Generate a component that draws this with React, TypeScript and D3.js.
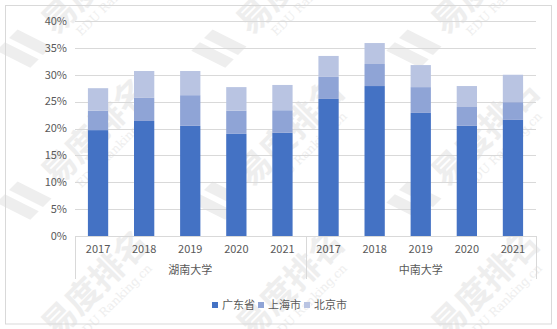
import React from "react";
import * as d3 from "d3";

const years = ["2017", "2018", "2019", "2020", "2021"];
const groups = ["湖南大学", "中南大学"];
const seriesNames = ["广东省", "上海市", "北京市"];
const guangdong = [19.7, 21.4, 20.5, 19.0, 19.2, 25.5, 27.9, 22.9, 20.5, 21.6];
const shanghai = [3.6, 4.3, 5.7, 4.3, 4.2, 4.1, 4.1, 4.8, 3.5, 3.3];
const beijing = [4.2, 5.0, 4.5, 4.4, 4.7, 3.9, 3.9, 4.1, 3.9, 5.1];
const yTicks = [0, 5, 10, 15, 20, 25, 30, 35, 40];
const colors = ["#4472C4", "#8FA4D6", "#B9C4E2"];

const W = 557;
const H = 329;
const FONT = "'Noto Sans CJK SC', 'Noto Sans', sans-serif";

const wmTiles: [number, number][] = [];
for (let r = 0; r < 3; r++) {
  for (let c = 0; c < 3; c++) {
    wmTiles.push([43 + c * 195, 55 + r * 152]);
  }
}

export default function App() {
  const cats = groups.flatMap((g) => years.map((y) => ({ g, y })));
  const rows = cats.map((c, i) => ({
    key: i,
    s0: guangdong[i],
    s1: shanghai[i],
    s2: beijing[i],
  }));
  const stack = d3.stack<any>().keys(["s0", "s1", "s2"]);
  const stacked = stack(rows);

  const x = d3
    .scaleBand<number>()
    .domain(d3.range(cats.length))
    .range([75, 536])
    .paddingInner(0.56)
    .paddingOuter(0.28);
  const y = d3.scaleLinear().domain([0, 40]).range([236, 21]);
  const step = x.step();

  const groupBounds = groups.map((g, gi) => ({
    g,
    x0: 75 + gi * years.length * step,
    x1: 75 + (gi + 1) * years.length * step,
  }));

  return (
    <div style={{ position: "fixed", left: 0, top: 0, width: W, height: H, background: "#fff" }}>
      <svg width={W} height={H} style={{ display: "block" }} fontFamily={FONT}>
        <rect x={0} y={0} width={W} height={H} fill="#fff" />
        {/* watermark */}
        <g fill="#eeeeee">
          {wmTiles.map(([bx, by], i) => (
            <g key={i} transform={`translate(${bx},${by}) rotate(-45)`}>
              <polygon points="-30,-36 -18,-36 -6,0 -18,0" />
              <polygon points="-12,-36 0,-36 12,0 0,0" />
              <text x={22} y={-4} fontSize={34} fontWeight="bold" fontFamily={FONT}>
                易度排名
              </text>
              <text x={40} y={14} fontSize={12} fontFamily="'DejaVu Serif', serif">
                EDU Ranking.cn
              </text>
            </g>
          ))}
        </g>
        <rect x={5.5} y={5.5} width={546} height={318.5} fill="none" stroke="#d9d9d9" />
        {/* gridlines */}
        {yTicks.map((t) => (
          <line
            key={t}
            x1={75}
            x2={536}
            y1={Math.round(y(t)) + 0.5}
            y2={Math.round(y(t)) + 0.5}
            stroke="#d9d9d9"
          />
        ))}
        {yTicks.map((t) => (
          <text
            key={"l" + t}
            x={67}
            y={y(t)}
            dy="0.35em"
            textAnchor="end"
            fontSize={11}
            fill="#595959"
          >
            {t + "%"}
          </text>
        ))}
        {/* bars */}
        {stacked.map((layer, si) => (
          <g key={si} fill={colors[si]}>
            {layer.map((d, i) => (
              <rect
                key={i}
                x={x(i)!}
                width={x.bandwidth()}
                y={y(d[1])}
                height={y(d[0]) - y(d[1])}
              />
            ))}
          </g>
        ))}
        {/* category axis */}
        {groupBounds.map((b, gi) => (
          <g key={gi}>
            <line x1={Math.round(b.x0) + 0.5} x2={Math.round(b.x0) + 0.5} y1={236} y2={279} stroke="#d9d9d9" />
            {gi === groups.length - 1 && (
              <line x1={Math.round(b.x1) + 0.5} x2={Math.round(b.x1) + 0.5} y1={236} y2={279} stroke="#d9d9d9" />
            )}
            <text
              x={(b.x0 + b.x1) / 2}
              y={270}
              dy="0.35em"
              textAnchor="middle"
              fontSize={11}
              fill="#595959"
            >
              {b.g}
            </text>
          </g>
        ))}
        {cats.map((c, i) => (
          <text
            key={i}
            x={x(i)! + x.bandwidth() / 2}
            y={249}
            dy="0.35em"
            textAnchor="middle"
            fontSize={11}
            fill="#595959"
          >
            {c.y}
          </text>
        ))}
        {/* legend */}
        {seriesNames.map((n, i) => (
          <g key={n} transform={`translate(${212 + i * 46},0)`}>
            <rect x={0} y={302} width={6} height={6} fill={colors[i]} />
            <text x={10} y={305} dy="0.35em" fontSize={11} fill="#595959">
              {n}
            </text>
          </g>
        ))}
      </svg>
    </div>
  );
}
